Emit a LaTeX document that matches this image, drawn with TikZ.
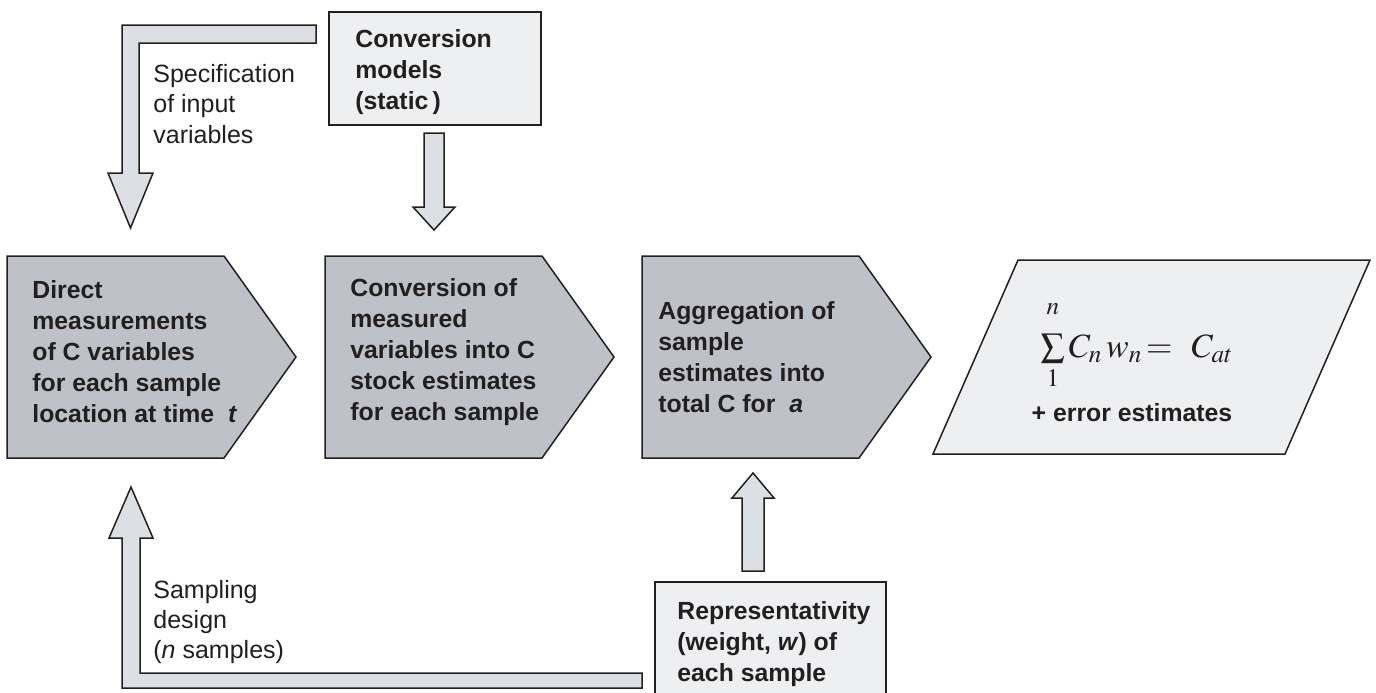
\documentclass[tikz,border=0pt]{standalone}
\usepackage{mathptmx}
\usepackage[no-math]{fontspec}
\setmainfont{Liberation Sans}
\usetikzlibrary{positioning}

\definecolor{linec}{RGB}{35,31,32}
\definecolor{darkfill}{RGB}{190,194,200}
\definecolor{lightfill}{RGB}{238,239,241}
\definecolor{arrowfill}{RGB}{220,223,228}

\tikzset{
  darkbox/.style = {draw = linec, fill = darkfill, line width = 0.75pt, line join = miter},
  lightbox/.style = {draw = linec, fill = lightfill, line width = 0.75pt},
  blockarrow/.style = {draw = linec, fill = arrowfill, line width = 0.75pt},
  boxtext/.style = {font = \fontsize{12.4}{15.5}\selectfont\bfseries, text = linec,
                    align = left, anchor = west, inner sep = 0pt},
  labeltext/.style = {font = \fontsize{12.5}{15.2}\selectfont, text = linec,
                      align = left, anchor = west, inner sep = 0pt}
}

\begin{document}
\begin{tikzpicture}[x = 0.5pt, y = -0.5pt]
		\useasboundingbox (0, 0) rectangle (1376, 692);
		\clip (0, 0) rectangle (1376, 692);
		%%%%%%%%%%%%% boxes
		\draw [lightbox] (329, 12) rectangle (541, 125);
		\draw [lightbox] (655, 582) rectangle (886, 710);
		\draw [darkbox] (7, 256) -- (224, 256) -- (296, 357) -- (224, 458) -- (7, 458) -- cycle;
		\draw [darkbox] (325, 256) -- (542, 256) -- (614, 357) -- (542, 458) -- (325, 458) -- cycle;
		\draw [darkbox] (642, 256) -- (859, 256) -- (931, 357) -- (859, 458) -- (642, 458) -- cycle;
		\draw [lightbox] (1018, 260) -- (1370, 260) -- (1285, 454) -- (933, 454) -- cycle;
		%%%%%%%%%%%%% block arrows
		\draw [blockarrow] (316, 25) -- (122, 25) -- (122, 173) -- (108, 173) -- (130.5, 228)
			-- (153, 173) -- (139, 173) -- (139, 43) -- (316, 43) -- cycle;
		\draw [blockarrow] (642, 673) -- (642, 688) -- (122, 688) -- (122, 538) -- (109, 538)
			-- (131, 487) -- (153, 538) -- (140, 538) -- (140, 673) -- cycle;
		\draw [blockarrow] (424, 133) -- (444, 133) -- (444, 207) -- (455, 207) -- (434, 230)
			-- (413, 207) -- (424, 207) -- cycle;
		\draw [blockarrow] (742, 571) -- (764, 571) -- (764, 498) -- (774, 498) -- (753, 473)
			-- (732, 498) -- (742, 498) -- cycle;
		%%%%%%%%%%%%% texts
		\node [boxtext] (models) at (355, 72) {Conversion\\models\\(static\,)};
		\node [boxtext] (direct) at (32, 352) {Direct\\measurements\\of C variables\\for each sample\\location at time~~\textit{t}};
		\node [boxtext] (convert) at (350, 352) {Conversion of\\measured\\variables into C\\stock estimates\\for each sample};
		\node [boxtext] (aggr) at (658, 357) {Aggregation of\\sample\\estimates into\\total C for~~\textit{a}};
		\node [boxtext] (weight) at (677, 644) {Representativity\\(weight, \textit{w}) of\\each sample};
		\node [labeltext] (spec) at (153, 104) {Specification\\of input\\variables};
		\node [labeltext] (design) at (153, 622) {Sampling\\design\\(\textit{n} samples)};
		\node [inner sep = 0pt, text = linec, font = \fontsize{17}{20}\selectfont, anchor = base] (sum) at (1137, 357)
			{$\sum\limits_{\rule{0pt}{9pt}1}^{\rule[-8pt]{0pt}{8pt}n} C_n\, w_n \!= \;\, C_{at}$};
		\node [boxtext, anchor = center] (error) at (1132, 413) {+ error estimates};
\end{tikzpicture}
\end{document}
